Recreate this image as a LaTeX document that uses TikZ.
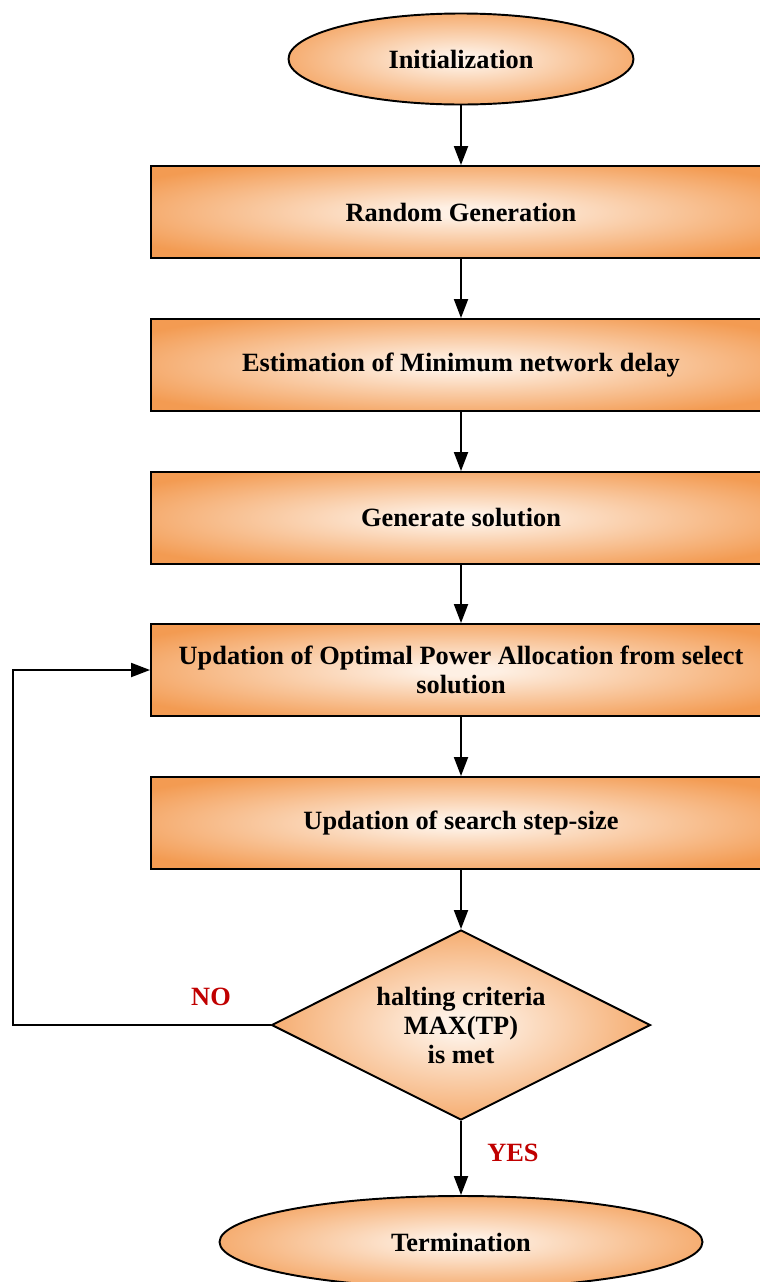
\documentclass[tikz,border=0pt]{standalone}
\usepackage{fontspec}
\setmainfont{Liberation Serif}
\usetikzlibrary{shapes.geometric,arrows.meta}
\definecolor{glowin}{RGB}{254,240,228}
\definecolor{glowout}{RGB}{243,155,82}
\definecolor{answer}{RGB}{192,0,0}
\pgfdeclareradialshading{orangeglow}{\pgfpoint{0bp}{0bp}}{color(0bp)=(glowin); color(3bp)=(glowin); color(31bp)=(glowout); color(100bp)=(glowout)}
\tikzset{
  flowshape/.style={draw=black, line width=1.1pt, shading=orangeglow, align=center, inner sep=0pt,
    font=\bfseries\fontsize{15}{16.5}\selectfont},
  termbox/.style={flowshape, ellipse},
  procbox/.style={flowshape, rectangle, minimum width=620*0.02cm, minimum height=92*0.02cm},
  testbox/.style={flowshape, diamond, shape aspect=2, minimum width=379*0.02cm, minimum height=190*0.02cm},
  flow/.style={line width=1.1pt, -{Triangle[length=0.38cm,width=0.28cm]}},
  answerlabel/.style={text=answer, font=\bfseries\fontsize{15}{16}\selectfont}
}
\begin{document}
\begin{tikzpicture}[x=0.02cm,y=-0.02cm]
  \useasboundingbox (0,0) rectangle (760,1282);
  \clip (0,0) rectangle (760,1282);

  % start and end of the procedure
  \node[termbox, minimum width=345*0.02cm, minimum height=91*0.02cm] (init) at (461,59) {Initialization};
  \node[termbox, minimum width=483*0.02cm, minimum height=92*0.02cm] (term) at (461,1242) {Termination};

  % processing steps
  \node[procbox] (rand) at (461,212) {Random Generation};
  \node[procbox] (est)  at (461,365) {Estimation of Minimum network delay};
  \node[procbox] (gen)  at (461,518) {Generate solution};
  \node[procbox] (upd)  at (461,670) {Updation of Optimal Power Allocation from select\\solution};
  \node[procbox] (step) at (461,823) {Updation of search step-size};

  % stopping test
  \node[testbox] (halt) at (461,1025) {halting criteria\\MAX(TP)\\is met};

  % main flow
  \draw[flow] (init) -- (rand);
  \draw[flow] (rand) -- (est);
  \draw[flow] (est) -- (gen);
  \draw[flow] (gen) -- (upd);
  \draw[flow] (upd) -- (step);
  \draw[flow] (step) -- (halt);
  \draw[flow] (halt.south) -- (term.north);

  % loop back when the criterion is not met
  \coordinate (loop) at (13,1025);
  \draw[flow] (halt.west) -- (loop) |- (upd.west);

  % branch labels
  \node[answerlabel] (no)  at (211,997)  {NO};
  \node[answerlabel] (yes) at (513,1153) {YES};
\end{tikzpicture}
\end{document}
